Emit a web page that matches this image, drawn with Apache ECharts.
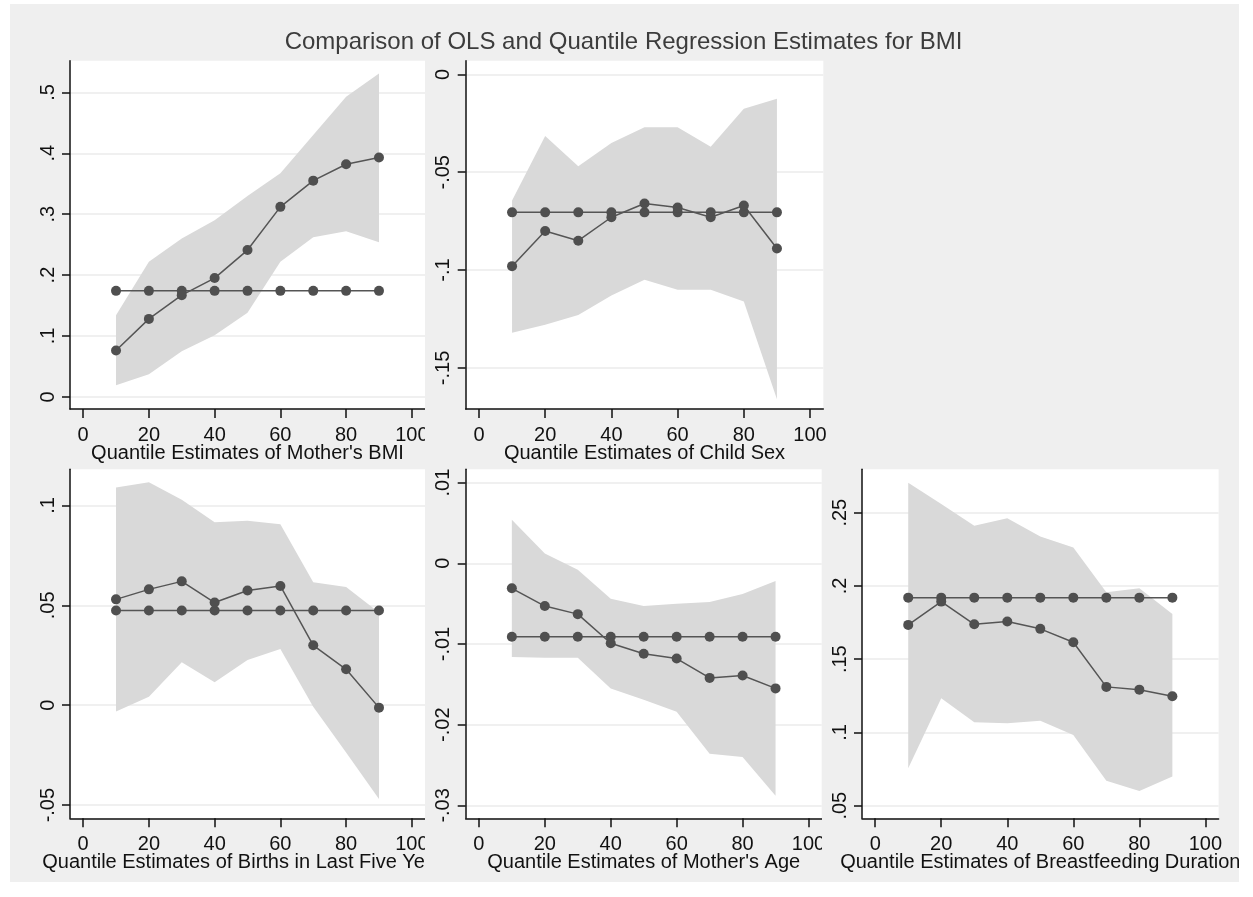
<!DOCTYPE html>
<html>
<head>
<meta charset="utf-8">
<title>OLS vs Quantile Regression</title>
<script src="https://cdn.jsdelivr.net/npm/echarts@6/dist/echarts.min.js"></script>
<style>
  body { margin: 0; background: #fff; }
  #page { position: relative; width: 1253px; height: 897px; overflow: hidden; }
  .cell { position: absolute; overflow: hidden; }
</style>
</head>
<body>
<div id="page">
  <div id="bg" class="cell" style="left:0;top:0;width:1253px;height:897px"></div>
  <div id="p1" class="cell" style="left:10px;top:56px;width:415px;height:413px"></div>
  <div id="p2" class="cell" style="left:425px;top:56px;width:410px;height:413px"></div>
  <div id="p3" class="cell" style="left:10px;top:463px;width:415px;height:419px"></div>
  <div id="p4" class="cell" style="left:425px;top:463px;width:397px;height:419px"></div>
  <div id="p5" class="cell" style="left:822px;top:463px;width:417px;height:419px"></div>
</div>
<script>
var FONT = '"Liberation Sans", Arial, sans-serif';

var quantiles = [10, 20, 30, 40, 50, 60, 70, 80, 90];
var xTicks = [0, 20, 40, 60, 80, 100];

// Mother's BMI
var bmiQR  = [0.076, 0.128, 0.167, 0.195, 0.241, 0.312, 0.355, 0.382, 0.393];
var bmiOLS = [0.174, 0.174, 0.174, 0.174, 0.174, 0.174, 0.174, 0.174, 0.174];
var bmiLo  = [0.019, 0.037, 0.075, 0.101, 0.138, 0.222, 0.262, 0.272, 0.254];
var bmiHi  = [0.134, 0.222, 0.260, 0.290, 0.330, 0.367, 0.430, 0.493, 0.531];
var bmiTicks = [0, 0.1, 0.2, 0.3, 0.4, 0.5];

// Child sex
var sexQR  = [-0.098, -0.080, -0.085, -0.073, -0.066, -0.068, -0.073, -0.067, -0.089];
var sexOLS = [-0.0705, -0.0705, -0.0705, -0.0705, -0.0705, -0.0705, -0.0705, -0.0705, -0.0705];
var sexLo  = [-0.132, -0.128, -0.123, -0.113, -0.105, -0.110, -0.110, -0.116, -0.166];
var sexHi  = [-0.0645, -0.0315, -0.047, -0.035, -0.027, -0.027, -0.037, -0.0175, -0.0125];
var sexTicks = [-0.15, -0.1, -0.05, 0];

// Births in last five years
var birthQR  = [0.053, 0.058, 0.062, 0.0514, 0.0574, 0.0597, 0.030, 0.018, -0.0012];
var birthOLS = [0.0474, 0.0474, 0.0474, 0.0474, 0.0474, 0.0474, 0.0474, 0.0474, 0.0474];
var birthLo  = [-0.0032, 0.0042, 0.0215, 0.0115, 0.0227, 0.0282, -0.0007, -0.0237, -0.047];
var birthHi  = [0.109, 0.1116, 0.1028, 0.0916, 0.0924, 0.0906, 0.0616, 0.0592, 0.0464];
var birthTicks = [-0.05, 0, 0.05, 0.1];

// Mother's age
var ageQR  = [-0.0031, -0.0053, -0.0063, -0.0099, -0.0112, -0.0118, -0.0142, -0.0139, -0.0155];
var ageOLS = [-0.0091, -0.0091, -0.0091, -0.0091, -0.0091, -0.0091, -0.0091, -0.0091, -0.0091];
var ageLo  = [-0.0116, -0.0117, -0.0117, -0.0155, -0.0169, -0.0184, -0.0236, -0.0240, -0.0288];
var ageHi  = [0.0054, 0.0012, -0.0008, -0.0044, -0.0053, -0.0050, -0.0048, -0.0038, -0.0022];
var ageTicks = [-0.03, -0.02, -0.01, 0, 0.01];

// Breastfeeding duration
var bfQR  = [0.1734, 0.1893, 0.1738, 0.1757, 0.1707, 0.1616, 0.1311, 0.1292, 0.1247];
var bfOLS = [0.192, 0.192, 0.192, 0.192, 0.192, 0.192, 0.192, 0.192, 0.192];
var bfLo  = [0.0756, 0.1233, 0.107, 0.1063, 0.1079, 0.0983, 0.0671, 0.0601, 0.0699];
var bfHi  = [0.2705, 0.256, 0.241, 0.2462, 0.2337, 0.2262, 0.1957, 0.1984, 0.1809];
var bfTicks = [0.05, 0.1, 0.15, 0.2, 0.25];

var mainTitle = 'Comparison of OLS and Quantile Regression Estimates for BMI';

// stata style labels: .5, -.05
function stataNum(v) {
  return String(v).replace(/^(-?)0\./, '$1.');
}

function pairs(ys) {
  return ys.map(function (y, i) { return [quantiles[i], y]; });
}

function panelOption(p) {
  var axisCol = '#111';
  var dot = { symbol: 'circle', symbolSize: 10, itemStyle: { color: '#4f4f4f' }, lineStyle: { color: '#555', width: 1.5 }, z: 3 };
  return {
    animation: false,
    grid: { left: p.grid[0], top: p.grid[1], width: p.grid[2], height: p.grid[3],
      outerBoundsMode: 'none', containLabel: false,
      show: true, backgroundColor: '#fff', borderWidth: 0 },
    xAxis: {
      type: 'value', min: -4, max: 104,
      name: p.name, nameLocation: 'middle', nameGap: 34, nameMoveOverlap: false,
      nameTextStyle: { fontSize: 20, color: axisCol, fontFamily: FONT },
      axisLine: { show: true, onZero: false, lineStyle: { color: axisCol, width: 1.5 } },
      axisTick: { show: true, customValues: xTicks, length: 9, lineStyle: { color: axisCol, width: 1.5 } },
      axisLabel: { customValues: xTicks, margin: 16, fontSize: 20, color: axisCol, fontFamily: FONT },
      splitLine: { show: false }
    },
    yAxis: {
      type: 'value', min: p.yMin, max: p.yMax,
      axisLine: { show: true, onZero: false, lineStyle: { color: axisCol, width: 1.5 } },
      axisTick: { show: true, customValues: p.ticks, length: 8, lineStyle: { color: axisCol, width: 1.5 } },
      axisLabel: { customValues: p.ticks, rotate: 90, margin: 12, fontSize: 20, color: axisCol,
        fontFamily: FONT, formatter: stataNum },
      splitLine: { show: true, lineStyle: { color: '#ebebeb', width: 1.5 } }
    },
    series: [
      {
        // confidence band: polygon through upper bounds, back along lower bounds
        type: 'custom', data: [0], silent: true, z: 1,
        renderItem: function (params, api) {
          var top = p.hi.map(function (h, i) { return api.coord([quantiles[i], h]); });
          var bot = p.lo.map(function (l, i) { return api.coord([quantiles[i], l]); }).reverse();
          return { type: 'polygon', shape: { points: top.concat(bot) }, style: { fill: '#d9d9d9' } };
        }
      },
      Object.assign({ type: 'line', data: pairs(p.ols) }, dot),
      Object.assign({ type: 'line', data: pairs(p.qr) }, dot)
    ]
  };
}

var panels = [
  { id: 'p1', name: "Quantile Estimates of Mother's BMI", qr: bmiQR, ols: bmiOLS, lo: bmiLo, hi: bmiHi,
    ticks: bmiTicks, yMin: -0.02, yMax: 0.552, grid: [60, 4.7, 355, 348.3] },
  { id: 'p2', name: 'Quantile Estimates of Child Sex', qr: sexQR, ols: sexOLS, lo: sexLo, hi: sexHi,
    ticks: sexTicks, yMin: -0.171, yMax: 0.007, grid: [40.7, 4.7, 357.6, 348.3] },
  { id: 'p3', name: 'Quantile Estimates of Births in Last Five Years', qr: birthQR, ols: birthOLS, lo: birthLo, hi: birthHi,
    ticks: birthTicks, yMin: -0.0566, yMax: 0.1181, grid: [60, 6.3, 355, 349] },
  { id: 'p4', name: "Quantile Estimates of Mother's Age", qr: ageQR, ols: ageOLS, lo: ageLo, hi: ageHi,
    ticks: ageTicks, yMin: -0.0316, yMax: 0.01165, grid: [40.7, 6.3, 356, 349] },
  { id: 'p5', name: 'Quantile Estimates of Breastfeeding Duration', qr: bfQR, ols: bfOLS, lo: bfLo, hi: bfHi,
    ticks: bfTicks, yMin: 0.0414, yMax: 0.2796, grid: [40, 6.3, 356.6, 349] }
];

// background + overall title
var bgChart = echarts.init(document.getElementById('bg'));
bgChart.setOption({
  animation: false,
  graphic: [
    { type: 'rect', shape: { x: 10, y: 4, width: 1229, height: 878 }, style: { fill: '#efefef' } },
    { type: 'text', x: 623.5, y: 42,
      style: { text: mainTitle, fill: '#3c3c3c', font: '24px ' + FONT, align: 'center', verticalAlign: 'middle' } }
  ]
});

panels.forEach(function (p) {
  var chart = echarts.init(document.getElementById(p.id));
  chart.setOption(panelOption(p));
});
</script>
</body>
</html>
